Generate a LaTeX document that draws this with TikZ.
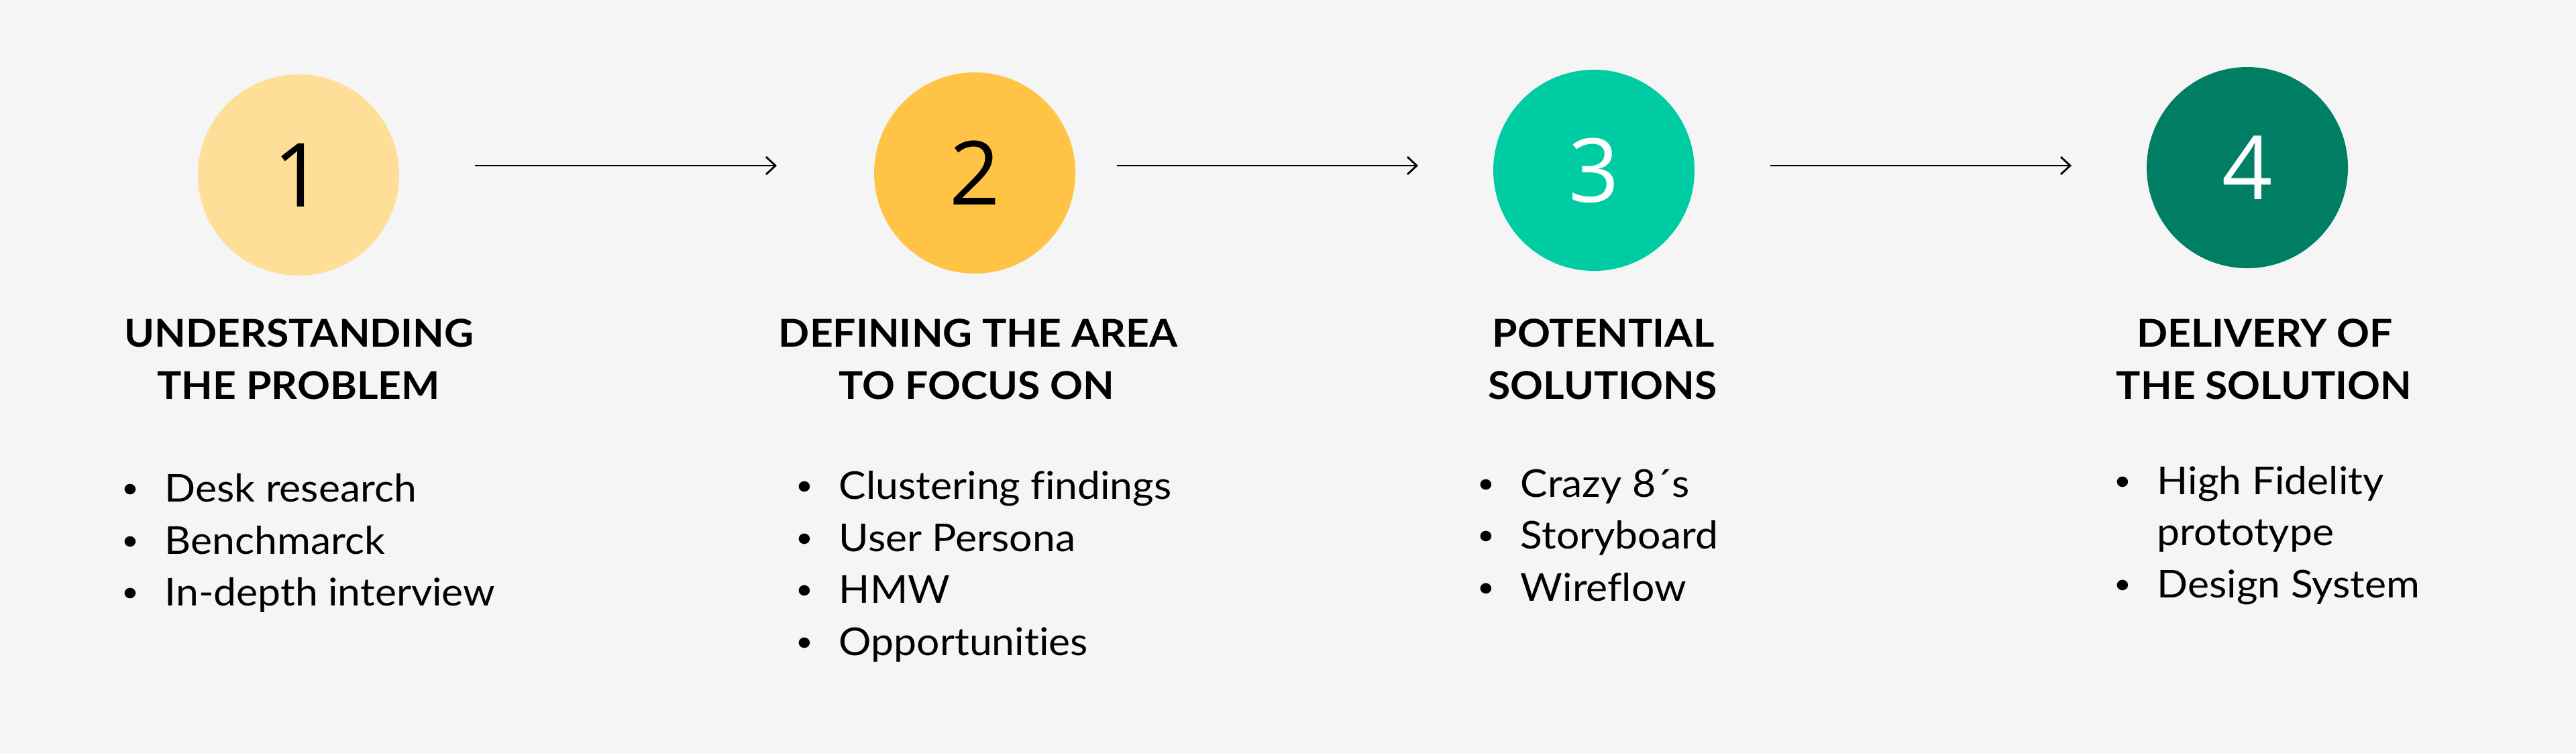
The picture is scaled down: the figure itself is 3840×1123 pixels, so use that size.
\documentclass[tikz,border=0pt]{standalone}
\usepackage{fontspec}
\setmainfont{Lato}[FakeStretch=1.06, Ligatures=NoCommon]
\newfontfamily\digitfont{Open Sans}
\usetikzlibrary{arrows.meta,calc}
\definecolor{bgc}{HTML}{F5F5F5}
\definecolor{cone}{HTML}{FFDE98}
\definecolor{ctwo}{HTML}{FFC445}
\definecolor{cthree}{HTML}{00CCA4}
\definecolor{cfour}{HTML}{007F65}
\newcommand{\itm}[4]{%
  \node[itm] (#1) at (#2,#3) {#4};
  \node[bul] (#1b) at ($(#2,#3)+(-51,-16)$) {•};}
\begin{document}
\begin{tikzpicture}[x=0.25pt,y=-0.25pt,
  stepcircle/.style={circle, minimum size=75pt, inner sep=0pt, font=\digitfont\fontsize{33}{33}\selectfont},
  ttl/.style={anchor=base, inner sep=0pt, font=\bfseries\fontsize{14.3}{17}\selectfont},
  itm/.style={anchor=base west, inner sep=0pt, font=\fontsize{14.3}{17}\selectfont},
  bul/.style={anchor=center, inner sep=0pt, font=\fontsize{10.5}{12}\selectfont},
  flow/.style={line width=0.7pt, -{Straight Barb[length=3.5pt,width=6.5pt]}}]
\fill[bgc] (0,0) rectangle (3840,1123);
\useasboundingbox (0,0) rectangle (3840,1123);
% circles
\node[stepcircle, fill=cone] (c1) at (445,261) {1};
\node[stepcircle, fill=ctwo] (c2) at (1453,258) {2};
\node[stepcircle, fill=cthree, text=white] (c3) at (2376,254) {3};
\node[stepcircle, fill=cfour, text=white] (c4) at (3350,250) {4};
% arrows
\coordinate (a1s) at (708,247); \coordinate (a1e) at (1158,247);
\coordinate (a2s) at (1665,247); \coordinate (a2e) at (2114,247);
\coordinate (a3s) at (2639,247); \coordinate (a3e) at (3088,247);
\draw[flow] (a1s) -- (a1e);
\draw[flow] (a2s) -- (a2e);
\draw[flow] (a3s) -- (a3e);
% titles
\node[ttl] (t1a) at (446,517) {UNDERSTANDING};
\node[ttl] (t1b) at (445,595) {THE PROBLEM};
\node[ttl] (t2a) at (1458,517) {DEFINING THE AREA};
\node[ttl] (t2b) at (1456,595) {TO FOCUS ON};
\node[ttl] (t3a) at (2390,517) {POTENTIAL};
\node[ttl] (t3b) at (2389,595) {SOLUTIONS};
\node[ttl] (t4a) at (3376,517) {DELIVERY OF};
\node[ttl] (t4b) at (3375,595) {THE SOLUTION};
% lists
\itm{l1a}{245}{748}{Desk research}
\itm{l1b}{245}{826}{Benchmarck}
\itm{l1c}{245}{903}{In-depth interview}
\itm{l2a}{1250}{744}{Clustering findings}
\itm{l2b}{1250}{822}{User Persona}
\itm{l2c}{1250}{899}{HMW}
\itm{l2d}{1250}{977}{Opportunities}
\itm{l3a}{2266}{741}{Crazy 8´s}
\itm{l3b}{2266}{818}{Storyboard}
\itm{l3c}{2266}{896}{Wireflow}
\itm{l4a}{3215}{737}{High Fidelity}
\node[itm] (l4b) at (3215,813) {prototype};
\itm{l4c}{3215}{891}{Design System}
\end{tikzpicture}
\end{document}
